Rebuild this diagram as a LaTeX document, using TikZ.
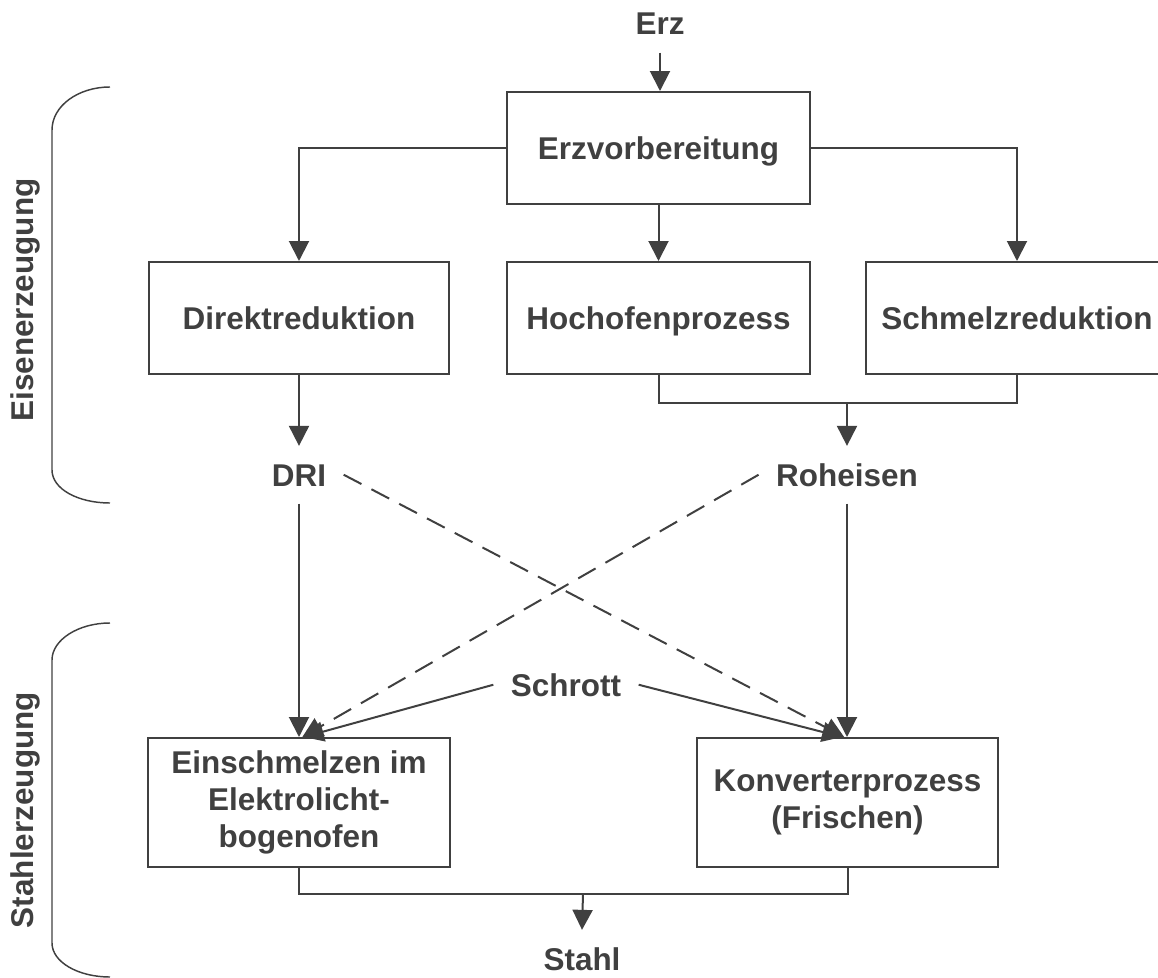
\documentclass[tikz,border=0pt]{standalone}
\usepackage{fontspec}
\setmainfont{Liberation Sans}
\usetikzlibrary{arrows.meta}
\definecolor{ink}{RGB}{64,64,64}
\begin{document}
\begin{tikzpicture}[x=0.75pt,y=-0.75pt,
  every node/.style={text=ink, font=\bfseries\fontsize{23.6pt}{27.5pt}\selectfont},
  box/.style={draw=ink, line width=1.5pt, inner sep=0pt, align=center, minimum height=84pt},
  onebox/.style={box, text height=16.9pt, text depth=0pt},
  tallbox/.style={box, minimum height=96.75pt},
  lbl/.style={inner sep=13pt, text height=16.9pt, text depth=0pt, anchor=base},
  conn/.style={draw=ink, line width=1.5pt},
  arr/.style={conn, -{Triangle[length=15pt,width=15pt]}},
  darr/.style={arr, dash pattern=on 15pt off 8.5pt},
  brace/.style={draw=ink, line width=1.1pt},
]
\useasboundingbox (0,0) rectangle (1158,978);

% process boxes
\node[onebox, minimum width=227.25pt] (vorb) at (658.5,148) {Erzvorbereitung};
\node[onebox, minimum width=225pt]    (dir)  at (299,318)   {Direktreduktion};
\node[onebox, minimum width=227.25pt] (hoch) at (658.5,318) {Hochofenprozess};
\node[onebox, minimum width=226.5pt]  (schm) at (1017,318)  {Schmelzreduktion};
\node[tallbox, minimum width=226.5pt] (ein)  at (299,802.5) {Einschmelzen im\\Elektrolicht-\\bogenofen};
\node[tallbox, minimum width=225.75pt] (konv) at (847.5,802.5) {Konverterprozess\\(Frischen)};

% materials
\node[lbl] (erz)   at (660,35)  {Erz};
\node[lbl] (dri)   at (299,486) {DRI};
\node[lbl] (roh)   at (847,486) {Roheisen};
\node[lbl] (schr)  at (566,696) {Schrott};
\node[lbl] (stahl) at (582,970) {Stahl};

% junction points
\coordinate (j1) at (847,403);
\coordinate (j2) at (583,894);

% iron making
\draw[arr] (erz.south) -- (vorb.north -| erz.south);
\draw[arr] (vorb.west) -| (dir.north);
\draw[arr] (vorb.south) -- (hoch.north);
\draw[arr] (vorb.east) -| (schm.north);
\draw[arr] (dir.south) -- (dir.south |- dri.north);
\draw[conn] (hoch.south) |- (j1) -| (schm.south);
\draw[arr] (j1) -- (roh.north);

% steel making
\draw[arr] (dri.south) -- (dri.south |- ein.north);
\draw[arr] (roh.south) -- (roh.south |- konv.north);
\draw[darr] (dri.east) -- ([xshift=-2.5pt]konv.north);
\draw[darr] (roh.west) -- ([xshift=2.5pt]ein.north);
\draw[arr] (schr.west) -- ([xshift=3.5pt]ein.north);
\draw[arr] (schr.east) -- ([xshift=-4pt]konv.north);
\draw[conn] (ein.south) |- (j2) -| (konv.south);
\draw[arr] (j2) -- (stahl.north);

% phase brackets
\draw[brace] (110,87) .. controls (78,87) and (52,106) .. (52,130)
  -- (52,470) .. controls (52,489) and (78,503) .. (110,503);
\draw[brace] (110,623) .. controls (78,623) and (52,640) .. (52,660)
  -- (52,943) .. controls (52,962) and (78,977) .. (110,977);
\node[rotate=90, anchor=base] (eisen) at (33,300) {Eisenerzeugung};
\node[rotate=90, anchor=base] (stahlerz) at (33,810) {Stahlerzeugung};
\end{tikzpicture}
\end{document}
